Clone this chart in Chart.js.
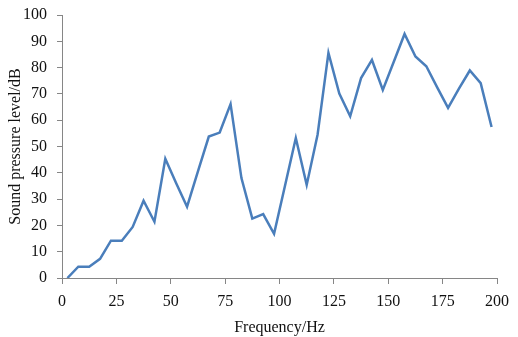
<!DOCTYPE html>
<html>
<head>
<meta charset="utf-8">
<script src="https://cdn.jsdelivr.net/npm/chart.js@4/dist/chart.umd.min.js"></script>
<style>
  html, body { margin: 0; padding: 0; background: #fff; }
  #wrap { width: 518px; height: 337px; position: relative; }
</style>
</head>
<body>
<div id="wrap"><canvas id="c" width="518" height="337"></canvas></div>
<script>
const frequency = [2.5, 7.5, 12.5, 17.5, 22.5, 27.5, 32.5, 37.5, 42.5, 47.5,
                   52.5, 57.5, 62.5, 67.5, 72.5, 77.5, 82.5, 87.5, 92.5, 97.5,
                   102.5, 107.5, 112.5, 117.5, 122.5, 127.5, 132.5, 137.5, 142.5, 147.5,
                   152.5, 157.5, 162.5, 167.5, 172.5, 177.5, 182.5, 187.5, 192.5, 197.5];
const soundLevel = [0, 4.3, 4.3, 7.3, 14.2, 14.2, 19.4, 29.4, 21.4, 45.3,
                    36, 27.1, 40.5, 53.8, 55.3, 66.1, 38, 22.6, 24.3, 16.8,
                    35, 53.2, 35.4, 54.5, 85.6, 70.1, 61.5, 76, 82.9, 71.5,
                    82.1, 92.8, 84.2, 80.5, 72.5, 64.7, 72, 78.9, 74.1, 57.4];
const xTicks = [0, 25, 50, 75, 100, 125, 150, 175, 200];
const yTicks = [0, 10, 20, 30, 40, 50, 60, 70, 80, 90, 100];
const xTitle = 'Frequency/Hz';
const yTitle = 'Sound pressure level/dB';

const points = frequency.map((f, i) => ({ x: f, y: soundLevel[i] }));
const axisColor = '#868686';
const textColor = '#111111';
const fam = '"Liberation Serif", "Times New Roman", serif';

new Chart(document.getElementById('c'), {
  type: 'scatter',
  data: {
    datasets: [{
      data: points,
      showLine: true,
      borderColor: '#4a7ebb',
      borderWidth: 2.5,
      pointRadius: 0,
      pointHoverRadius: 0,
      tension: 0,
      fill: false
    }]
  },
  options: {
    responsive: false,
    animation: false,
    devicePixelRatio: 1,
    layout: { padding: { top: 15, right: 21, bottom: 0, left: 0 } },
    plugins: { legend: { display: false }, tooltip: { enabled: false } },
    scales: {
      x: {
        type: 'linear',
        min: 0, max: 200,
        afterBuildTicks: (axis) => { axis.ticks = xTicks.map(v => ({ value: v })); },
        afterFit: (axis) => { axis.height = 59; axis.paddingLeft = 0; axis.paddingRight = 0; },
        grid: { display: true, drawOnChartArea: false, drawTicks: true, tickLength: 6, color: axisColor, lineWidth: 1 },
        border: { display: true, color: axisColor, width: 1 },
        ticks: { color: textColor, font: { family: fam, size: 16 }, padding: 8, maxRotation: 0, autoSkip: false },
        title: { display: true, text: xTitle, color: textColor, font: { family: fam, size: 16 }, padding: { top: 0, bottom: -0.5 } }
      },
      y: {
        type: 'linear',
        min: 0, max: 100,
        afterBuildTicks: (axis) => { axis.ticks = yTicks.map(v => ({ value: v })); },
        afterFit: (axis) => { axis.width = 62; axis.paddingTop = 0; axis.paddingBottom = 0; },
        grid: { display: true, drawOnChartArea: false, drawTicks: true, tickLength: 5, color: axisColor, lineWidth: 1 },
        border: { display: true, color: axisColor, width: 1 },
        ticks: { color: textColor, font: { family: fam, size: 16 }, padding: 10, autoSkip: false },
        title: { display: true, text: yTitle, color: textColor, font: { family: fam, size: 16 }, padding: { top: 6.5, bottom: 0 } }
      }
    }
  }
});
</script>
</body>
</html>
